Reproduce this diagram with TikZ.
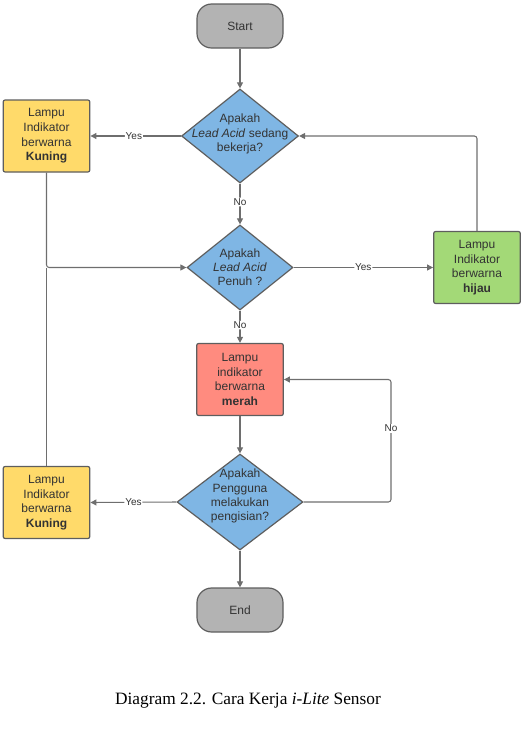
\documentclass[tikz,border=0pt]{standalone}
\usepackage{fontspec}
\setmainfont{Liberation Serif}
\setsansfont{Liberation Sans}
\usetikzlibrary{shapes.geometric,arrows.meta,positioning}
\definecolor{bordc}{HTML}{5E5E5E}
\definecolor{txtc}{HTML}{333333}
\definecolor{grayf}{HTML}{B3B3B3}
\definecolor{bluef}{HTML}{7FB6E4}
\definecolor{yellf}{HTML}{FFDA6A}
\definecolor{greenf}{HTML}{A3D977}
\definecolor{redf}{HTML}{FF8B7F}
\begin{document}
\begin{tikzpicture}[x=0.75pt,y=-0.75pt,
  base/.style={draw=bordc,line width=0.9pt,text=txtc,font=\sffamily\fontsize{9}{11}\selectfont,align=center,inner sep=0pt},
  term/.style={base,fill=grayf,rounded corners=11pt,minimum width=64.5pt,minimum height=33pt},
  dia/.style={base,diamond,fill=bluef,inner sep=0pt},
  diatext/.style={text=txtc,font=\sffamily\fontsize{9}{10.6}\selectfont,align=center,inner sep=0pt},
  lbox/.style={base,rectangle,rounded corners=1.5pt,minimum width=65pt,minimum height=54pt},
  conn/.style={draw=bordc!90,line width=0.8pt,rounded corners=2pt,-{Triangle[width=4.5pt,length=4.5pt]}},
  plain/.style={draw=bordc!90,line width=0.8pt,rounded corners=2pt},
  elab/.style={fill=white,text=txtc,font=\sffamily\fontsize{7.5}{8}\selectfont,inner sep=0.6pt}
]
\useasboundingbox (0,0) rectangle (527,729);

\node[term] (start) at (240,26) {Start};
\node[dia,minimum width=87.75pt,minimum height=70.5pt] (d1) at (240,136) {};
\node[diatext] (d1t) at (240,134) {Apakah\\\textit{Lead Acid} sedang\\bekerja?};
\node[lbox,fill=yellf] (y1) at (46.5,136) {Lampu\\Indikator\\berwarna\\\textbf{Kuning}};
\node[dia,minimum width=79.5pt,minimum height=63.75pt] (d2) at (240,267.5) {};
\node[diatext] (d2t) at (240,267) {Apakah\\\textit{Lead Acid}\\Penuh ?};
\node[lbox,fill=greenf] (g) at (477,267.5) {Lampu\\Indikator\\berwarna\\\textbf{hijau}};
\node[lbox,fill=redf] (r) at (240,379.5) {Lampu\\indikator\\berwarna\\\textbf{merah}};
\node[dia,minimum width=94.5pt,minimum height=72pt] (d3) at (240,502) {};
\node[diatext] (d3t) at (240,496) {Apakah\\Pengguna\\melakukan\\pengisian?};
\node[lbox,fill=yellf] (y2) at (46.5,502.5) {Lampu\\Indikator\\berwarna\\\textbf{Kuning}};
\node[term] (end) at (240,610) {End};

\node[font=\fontsize{13}{15}\selectfont,inner sep=0pt] (cap) at (248,701) {Diagram 2.2. Cara Kerja \textit{i-Lite} Sensor};

\coordinate (jn) at (y1.south |- d2.west);
\coordinate (rl) at (391,502);

\draw[conn] (start) -- (d1);
\draw[conn] (d1.west) -- node[elab,pos=0.52] (l1) {Yes} (y1.east);
\draw[conn] (d1.south) -- node[elab,pos=0.45] (l2) {No} (d2.north);
\draw[conn] (y1.south) |- (d2.west);
\draw[plain] (y2.north) -- (jn);
\draw[conn] (d2.east) -- node[elab,pos=0.5] (l3) {Yes} (g.west);
\draw[conn] (g.north) |- (d1.east);
\draw[conn] (d2.south) -- node[elab,pos=0.45] (l4) {No} (r.north);
\draw[conn] (r.south) -- (d3.north);
\draw[conn] (d3.east) -- (rl) |- node[elab,pos=0.3] (l5) {No} (r.east);
\draw[conn] (d3.west) -- node[elab,pos=0.5] (l6) {Yes} (y2.east);
\draw[conn] (d3.south) -- (end.north);
\end{tikzpicture}
\end{document}
